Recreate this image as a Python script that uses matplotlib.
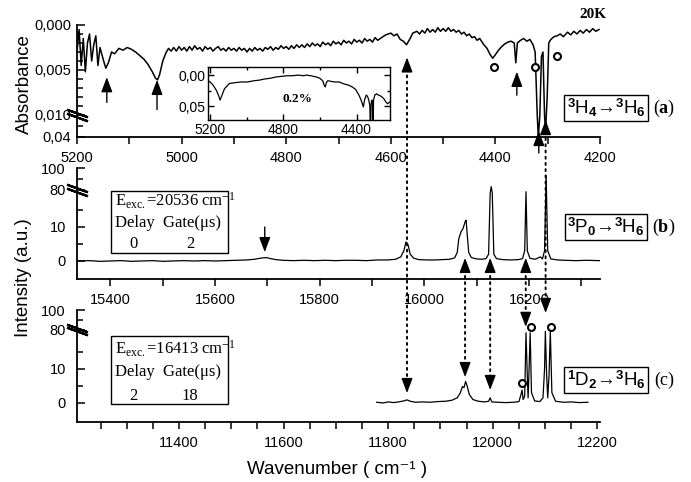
import numpy as np
import matplotlib
matplotlib.use('Agg')
import matplotlib.pyplot as plt
from matplotlib.patches import ConnectionPatch, Rectangle
from matplotlib.ticker import FixedLocator, FixedFormatter, MultipleLocator
import matplotlib.transforms as mtransforms

plt.rcParams['font.family'] = ['Liberation Sans', 'DejaVu Sans']
plt.rcParams['mathtext.fontset'] = 'custom'
plt.rcParams['mathtext.rm'] = 'Liberation Serif'
plt.rcParams['mathtext.it'] = 'Liberation Serif:italic'
plt.rcParams['mathtext.bf'] = 'Liberation Serif:bold'
plt.rcParams['mathtext.sf'] = 'Liberation Sans:bold'

# ---------------- data ----------------
# (a) absorbance spectrum
abs_wn = [5200, 5196, 5192, 5188, 5184, 5180, 5176, 5172, 5168, 5164, 5160, 5156, 5150, 5145, 5140,
          5134, 5128, 5120, 5112, 5104, 5096, 5088, 5080, 5072, 5064, 5056, 5050, 5046, 5042, 5036,
          5030, 5025, 5020, 5015, 5010, 5005, 5000, 4995, 4990, 4985, 4980, 4975, 4970, 4965, 4960,
          4955, 4950, 4945, 4940, 4935, 4930, 4925, 4920, 4915, 4910, 4905, 4900, 4895, 4890, 4885,
          4880, 4875, 4870, 4865, 4860, 4855, 4850, 4845, 4840, 4835, 4830, 4825, 4820, 4815, 4810,
          4805, 4800, 4795, 4790, 4785, 4780, 4775, 4770, 4765, 4760, 4755, 4750, 4745, 4740, 4735,
          4730, 4725, 4720, 4715, 4710, 4705, 4700, 4695, 4690, 4685, 4680, 4675, 4670, 4665, 4660,
          4655, 4650, 4645, 4640, 4635, 4630, 4625, 4620, 4615, 4610, 4600,
          4594, 4588, 4582, 4576, 4570, 4564, 4558,
          4550, 4545, 4540, 4535, 4530, 4525, 4520, 4515, 4510, 4505, 4500, 4495, 4490, 4485, 4480,
          4475, 4470, 4465, 4460, 4455, 4450, 4445, 4440, 4435, 4430,
          4422, 4416, 4410, 4405, 4400, 4394, 4388, 4382, 4376, 4370,
          4364, 4361, 4358, 4352, 4346, 4340, 4334, 4328, 4324, 4320, 4318, 4315, 4312, 4309, 4306,
          4304, 4301, 4298, 4294, 4288, 4282, 4276, 4270, 4262, 4256, 4250, 4244, 4238, 4232, 4226,
          4220, 4214, 4208, 4202]
abs_val = [0.0030, 0.0005, 0.0045, 0.0015, 0.0052, 0.0020, 0.0010, 0.0040, 0.0022, 0.0012, 0.0045, 0.0025, 0.0038, 0.0048, 0.0042,
           0.0030, 0.0032, 0.0026, 0.0028, 0.0025, 0.0027, 0.0030, 0.0034, 0.0038, 0.0044, 0.0052, 0.0059, 0.0061, 0.0055, 0.0040,
           0.0031, 0.0026, 0.0029, 0.0025, 0.0029, 0.0024, 0.0028, 0.0025, 0.0029, 0.0024, 0.0028, 0.0023, 0.0027, 0.0025, 0.0029,
           0.0024, 0.0027, 0.0025, 0.0029, 0.0026, 0.0024, 0.0028, 0.0026, 0.0029, 0.0025, 0.0028, 0.0026, 0.0029, 0.0025, 0.0028,
           0.0026, 0.0030, 0.0026, 0.0029, 0.0025, 0.0028, 0.0026, 0.0029, 0.0025, 0.0027, 0.0024, 0.0028, 0.0025, 0.0027, 0.0023,
           0.0026, 0.0024, 0.0027, 0.0023, 0.0026, 0.0022, 0.0025, 0.0022, 0.0025, 0.0021, 0.0024, 0.0020, 0.0023, 0.0021, 0.0024,
           0.0019, 0.0022, 0.0020, 0.0023, 0.0018, 0.0021, 0.0019, 0.0022, 0.0017, 0.0020, 0.0018, 0.0021, 0.0016, 0.0019, 0.0017,
           0.0020, 0.0015, 0.0018, 0.0016, 0.0019, 0.0014, 0.0017, 0.0015, 0.0013, 0.0011, 0.0009,
           0.0012, 0.0010, 0.0016, 0.0018, 0.0022, 0.0016, 0.0009,
           0.0007, 0.0010, 0.0006, 0.0009, 0.0004, 0.0008, 0.0005, 0.0008, 0.0003, 0.0007, 0.0004, 0.0007, 0.0003, 0.0007, 0.0005,
           0.0008, 0.0006, 0.0010, 0.0008, 0.0012, 0.0010, 0.0014, 0.0013, 0.0017, 0.0015,
           0.0022, 0.0026, 0.0033, 0.0037, 0.0033, 0.0028, 0.0024, 0.0021, 0.0019, 0.0018,
           0.0020, 0.0042, 0.0020, 0.0017, 0.0015, 0.0018, 0.0016, 0.0022, 0.0030, 0.0100, 0.0400, 0.0100, 0.0035, 0.0030, 0.0120,
           0.0300, 0.0080, 0.0020, 0.0016, 0.0013, 0.0012, 0.0010, 0.0013, 0.0008, 0.0011, 0.0007, 0.0010, 0.0006, 0.0009, 0.0005,
           0.0008, 0.0004, 0.0007, 0.0005]

# inset (0.2 %)
ins_wn = [5205, 5190, 5180, 5167, 5155, 5146, 5138, 5122, 5095, 5060, 5030, 4996, 4960, 4930, 4907, 4870, 4840,
          4810, 4780, 4750, 4720, 4690, 4673, 4650, 4620, 4601, 4585, 4577, 4571, 4565, 4557, 4540, 4520,
          4494, 4470, 4445, 4423, 4405, 4387, 4375, 4368, 4363, 4356, 4347, 4340, 4333, 4327, 4324, 4320,
          4315, 4312, 4310, 4307, 4300, 4290, 4280, 4265, 4250, 4240, 4230, 4218]
ins_val = [0.010, 0.014, 0.018, 0.024, 0.032, 0.040, 0.034, 0.022, 0.0134, 0.012, 0.011, 0.011, 0.009, 0.008, 0.0065, 0.005, 0.003,
           0.002, 0.001, 0.001, 0.0, 0.001, 0.0, 0.001, 0.003, 0.005, 0.009, 0.016, 0.019, 0.012, 0.009, 0.010, 0.011,
           0.011, 0.014, 0.016, 0.019, 0.023, 0.032, 0.040, 0.046, 0.051, 0.040, 0.032, 0.034, 0.040, 0.050, 0.100, 0.045,
           0.040, 0.050, 0.100, 0.040, 0.032, 0.030, 0.032, 0.034, 0.038, 0.043, 0.046, 0.043]

# (b) emission, excitation 20536 cm-1
b_wn = [15336, 15360, 15380, 15400, 15420, 15440, 15460, 15480, 15500, 15520, 15540, 15560, 15580, 15600,
        15620, 15640, 15660, 15675, 15690, 15698, 15706, 15716, 15730, 15750, 15770, 15790, 15810, 15830,
        15850, 15870, 15890, 15910, 15930, 15945, 15955, 15961, 15965, 15969, 15973, 15980, 15990, 16005,
        16020, 16035, 16048, 16058, 16063, 16066, 16070, 16074, 16078, 16080, 16082, 16085, 16090, 16100,
        16110, 16118, 16123, 16126, 16128, 16130, 16133, 16138, 16150, 16165, 16180, 16188, 16192, 16194.5,
        16197, 16202, 16212, 16222, 16226, 16230, 16233, 16236, 16242, 16255, 16270, 16290, 16310, 16336]
b_val = [0.0, 0.1, -0.1, 0.0, 0.1, -0.1, 0.0, 0.1, -0.1, 0.0, 0.1, 0.0, 0.1, 0.0,
         0.1, 0.2, 0.3, 0.5, 0.9, 1.0, 0.7, 0.4, 0.2, 0.1, 0.2, 0.1, 0.2, 0.1,
         0.2, 0.2, 0.1, 0.3, 0.3, 0.5, 1.2, 3.0, 5.6, 4.8, 2.0, 0.8, 0.4, 0.3,
         0.3, 0.4, 0.5, 0.9, 2.5, 6.5, 8.5, 9.5, 11.5, 12.0, 8.0, 2.5, 1.0, 0.6,
         0.5, 0.7, 2.0, 20.0, 83.0, 20.0, 2.0, 0.7, 0.4, 0.3, 0.4, 0.7, 3.0, 45.0,
         3.0, 0.8, 0.5, 1.2, 0.6, 3.0, 93.0, 3.0, 0.6, 0.3, 0.2, 0.1, 0.2, 0.1]

# (c) emission, excitation 16413 cm-1
c_wn = [11778, 11790, 11800, 11810, 11820, 11830, 11836, 11842, 11852, 11865, 11880, 11895, 11910, 11922,
        11932, 11938, 11942, 11945, 11948, 11951, 11955, 11962, 11972, 11985, 11992, 11995, 11998, 12010,
        12025, 12040, 12050, 12054, 12056, 12058, 12061, 12063.5, 12066, 12067.5, 12069, 12071.5, 12074,
        12080, 12090, 12096, 12099, 12100.5, 12103, 12105, 12107.5, 12110, 12113, 12120, 12135, 12150,
        12165, 12182]
c_val = [0.2, 0.0, 0.3, 0.1, 0.3, 0.6, 0.9, 0.5, 0.2, 0.3, 0.2, 0.4, 0.5, 0.8,
         1.5, 3.0, 4.8, 4.5, 6.3, 5.0, 2.5, 1.0, 0.5, 0.3, 0.5, 1.5, 0.3, 0.2,
         0.1, 0.2, 0.4, 2.5, 3.8, 1.0, 2.0, 45.0, 8.0, 1.5, 8.0, 45.0, 3.0,
         0.6, 0.4, 1.5, 10.0, 60.0, 8.0, 1.5, 8.0, 60.0, 3.0, 0.5, 0.2, 0.3,
         0.1, 0.2]

# tick labels
a_yticks = [0, 0.005, 0.010, 0.04]
a_ylabels = ['0,000', '0,005', '0,010', '0,04']
bc_yticks = [0, 10, 80, 100]
bc_ylabels = ['0', '10', '80', '100']
ins_yticks = [0.0, 0.05]
ins_ylabels = ['0,00', '0,05']

# markers / annotations (data coordinates of each panel)
a_arrows_x = [5143, 5047, 4359]
a_arrows_tip = [0.0058, 0.0061, 0.0052]
a_arrows_tail = [0.0086, 0.0094, 0.0078]
a_circles_x = [4403, 4324, 4282]
a_circles_y = [0.0047, 0.0047, 0.0034]
c_circles_x = [12056, 12073, 12111]
c_circles_y = [5.9, 83.0, 83.0]

# ---------------- figure ----------------
W, H = 691, 482
fig = plt.figure(figsize=(W / 100, H / 100), dpi=100)


def fx(px):
    return px / W


def fy(py):
    return 1 - py / H


def piecewise_scale(xs, ys):
    xs = np.asarray(xs, float)
    ys = np.asarray(ys, float)
    return (lambda v: np.interp(v, xs, ys), lambda f: np.interp(f, ys, xs))


def style_axis(ax):
    for s in ['top', 'right']:
        ax.spines[s].set_visible(False)
    for s in ['left', 'bottom']:
        ax.spines[s].set_linewidth(1.3)
    ax.tick_params(axis='y', which='both', direction='in', labelsize=10.5, width=1.1)
    ax.tick_params(axis='y', which='major', length=6)
    ax.tick_params(axis='y', which='minor', length=4)
    ax.tick_params(axis='x', which='both', direction='out', length=5, width=1.1, labelsize=10.5, pad=5)


def break_mark(ax, yv):
    base = ax.get_yaxis_transform()
    for dy in (-1.6, 1.6):
        tr = mtransforms.offset_copy(base, fig=fig, x=0, y=dy, units='dots')
        ax.plot([0], [yv], marker=(2, 2, 70), ms=16, mew=1.6, color='k',
                transform=tr, clip_on=False)


HEAD = dict(arrowstyle='-|>,head_length=0.45,head_width=0.17', color='k',
            lw=1.0, mutation_scale=20, shrinkA=0, shrinkB=0)


def head(ax, x, y, up):
    ax.annotate('', xy=(x, y), xycoords='data', xytext=(0, -8 if up else 8),
                textcoords='offset points', annotation_clip=False, arrowprops=HEAD)


L, Wd = fx(77), fx(600) - fx(77)
ax_a = fig.add_axes([L, fy(137), Wd, (137 - 25) / H])
ax_b = fig.add_axes([L, fy(279), Wd, (279 - 168) / H])
ax_c = fig.add_axes([L, fy(422), Wd, (422 - 310) / H])

# ----- panel a -----
ax_a.set_yscale('function', functions=piecewise_scale([-1, 0.010, 1], [-1, 0.010, 0.010 + 0.99 * 0.0815]))
ax_a.plot(abs_wn, abs_val, color='k', lw=1.1)
ax_a.set_xlim(5200, 4200)
ax_a.set_ylim(0.04, 0.0)
ax_a.xaxis.set_major_locator(MultipleLocator(200))
ax_a.xaxis.set_minor_locator(MultipleLocator(100))
ax_a.yaxis.set_major_locator(FixedLocator(a_yticks))
ax_a.yaxis.set_major_formatter(FixedFormatter(a_ylabels))
ax_a.yaxis.set_minor_locator(FixedLocator([0.001, 0.002, 0.003, 0.004, 0.006, 0.007, 0.008, 0.009, 0.025]))
style_axis(ax_a)
ax_a.tick_params(axis='y', pad=4)
break_mark(ax_a, 0.010)
for x, t, tl in zip(a_arrows_x, a_arrows_tip, a_arrows_tail):
    ax_a.annotate('', xy=(x, t), xytext=(x, tl), arrowprops=HEAD)
ax_a.annotate('', xy=(4317, 0.0318), xytext=(4317, 0.0618), annotation_clip=False, arrowprops=HEAD)
ax_a.plot(a_circles_x, a_circles_y, 'o', mfc='white', mec='k', ms=5, mew=1.5)

# inset
ax_in = fig.add_axes([fx(208), fy(120), fx(390) - fx(208), (120 - 67) / H])
ax_in.plot(ins_wn, ins_val, color='k', lw=0.9)
ax_in.set_xlim(5212, 4217)
ax_in.set_ylim(0.072, -0.013)
ax_in.xaxis.set_major_locator(FixedLocator([5200, 4800, 4400]))
ax_in.xaxis.set_minor_locator(MultipleLocator(200))
ax_in.yaxis.set_major_locator(FixedLocator(ins_yticks))
ax_in.yaxis.set_major_formatter(FixedFormatter(ins_ylabels))
ax_in.yaxis.set_minor_locator(MultipleLocator(0.025))
ax_in.tick_params(which='both', direction='in', top=True, right=True, labelsize=10, pad=2, width=1)
ax_in.tick_params(which='major', length=4)
ax_in.tick_params(which='minor', length=2.5)
for s in ax_in.spines.values():
    s.set_linewidth(1.0)

# ----- panel b -----
ax_b.set_yscale('function', functions=piecewise_scale([-1000, 20, 80, 1000],
                                                       [-1000, 20, 20.9, 20.9 + 920 * 0.3225]))
ax_b.plot(b_wn, b_val, color='k', lw=0.9)
ax_b.set_xlim(15336, 16336)
ax_b.set_ylim(-5.3, 100)
ax_b.xaxis.set_major_locator(MultipleLocator(200))
ax_b.xaxis.set_minor_locator(MultipleLocator(100))
ax_b.yaxis.set_major_locator(FixedLocator(bc_yticks))
ax_b.yaxis.set_major_formatter(FixedFormatter(bc_ylabels))
ax_b.yaxis.set_minor_locator(FixedLocator([5, 15, 90]))
style_axis(ax_b)
ax_b.tick_params(axis='y', pad=8)
break_mark(ax_b, 80)
ax_b.annotate('', xy=(15695, 2.6), xytext=(15695, 10), arrowprops=HEAD)

# ----- panel c -----
ax_c.set_yscale('function', functions=piecewise_scale([-1000, 20, 80, 1000],
                                                       [-1000, 20, 21.5, 21.5 + 920 * 0.29]))
ax_c.plot(c_wn, c_val, color='k', lw=0.9)
ax_c.set_xlim(11205, 12205)
ax_c.set_ylim(-5.6, 100)
ax_c.xaxis.set_major_locator(MultipleLocator(200))
ax_c.xaxis.set_minor_locator(MultipleLocator(50))
ax_c.yaxis.set_major_locator(FixedLocator(bc_yticks))
ax_c.yaxis.set_major_formatter(FixedFormatter(bc_ylabels))
ax_c.yaxis.set_minor_locator(FixedLocator([5, 15, 90]))
style_axis(ax_c)
ax_c.tick_params(axis='y', pad=8)
break_mark(ax_c, 80)
ax_c.plot(c_circles_x, c_circles_y, 'o', mfc='white', mec='k', ms=5, mew=1.5, clip_on=False)

# ----- dotted correlation lines (arrowhead at both ends) -----
links = [
    (ax_a, (4569, 0.0036), ax_c, (11836, 2.9)),
    (ax_b, (16078, 0.9), ax_c, (11947, 7.6)),
    (ax_b, (16126, 0.9), ax_c, (11995, 3.8)),
    (ax_b, (16194, 0.9), ax_c, (12063, 82.9)),
    (ax_a, (4304, 0.0169), ax_c, (12101, 97.0)),
]
for axA, pA, axB, pB in links:
    con = ConnectionPatch(xyA=pA, coordsA=axA.transData, xyB=pB, coordsB=axB.transData,
                          arrowstyle='-', linestyle=(0, (1.0, 2.2)), lw=1.4, color='k',
                          shrinkA=4, shrinkB=4)
    fig.add_artist(con)
    head(axA, pA[0], pA[1], up=True)
    head(axB, pB[0], pB[1], up=False)

# ----- text -----
fig.text(fx(24), fy(84), 'Absorbance', rotation=90, fontsize=13.5, ha='center', va='center')
fig.text(fx(24), fy(278), 'Intensity (a.u.)', rotation=90, fontsize=13.5, ha='center', va='center')
fig.text(fx(337), fy(469), 'Wavenumber ( cm⁻¹ )', fontsize=13.5, ha='center', va='center')

fig.text(fx(593), fy(15), '20K', family='Liberation Serif', weight='bold', fontsize=11, ha='center', va='center')
fig.text(fx(297), fy(99), '0.2%', family='Liberation Serif', weight='bold', fontsize=9.5, ha='center', va='center')

trans_labels = [r'$^{\mathsf{3}}$H$_{\mathsf{4}}$→$^{\mathsf{3}}$H$_{\mathsf{6}}$',
                r'$^{\mathsf{3}}$P$_{\mathsf{0}}$→$^{\mathsf{3}}$H$_{\mathsf{6}}$',
                r'$^{\mathsf{1}}$D$_{\mathsf{2}}$→$^{\mathsf{3}}$H$_{\mathsf{6}}$']
panel_tags = [r'($\mathbf{a}$)', r'($\mathbf{b}$)', '(c)']
for lab, tag, yc in zip(trans_labels, panel_tags, [108, 227, 380]):
    fig.text(fx(606), fy(yc), lab, fontsize=13.5, ha='center', va='center',
             bbox=dict(boxstyle='square,pad=0.12', fc='white', ec='k', lw=1.0))
    fig.text(fx(664), fy(yc), tag, family='Liberation Serif', fontsize=13, ha='center', va='center')

# info boxes
info = [((111, 191, 228, 253), '20536', ('0', '2'), (201, 223, 244)),
        ((111, 336, 228, 404), '16413', ('2', '18'), (349, 372, 396))]
for (x0, y0, x1, y1), eexc, (dl, gt), (t1, t2, t3) in info:
    fig.add_artist(Rectangle((fx(x0), fy(y1)), fx(x1) - fx(x0), (y1 - y0) / H,
                             transform=fig.transFigure, fill=False, ec='k', lw=1.0))
    fig.text(fx(115), fy(t1), r'$\mathrm{E_{exc.}}$=' + eexc + r' cm$^{\mathrm{-1}}$',
             family='Liberation Serif', fontsize=12, ha='left', va='center')
    fig.text(fx(115), fy(t2), 'Delay  Gate(μs)', family='Liberation Serif', fontsize=12,
             ha='left', va='center')
    fig.text(fx(133), fy(t3), dl, family='Liberation Serif', fontsize=12, ha='center', va='center')
    fig.text(fx(190), fy(t3), gt, family='Liberation Serif', fontsize=12, ha='center', va='center')

fig.savefig('out.png', dpi=100)
